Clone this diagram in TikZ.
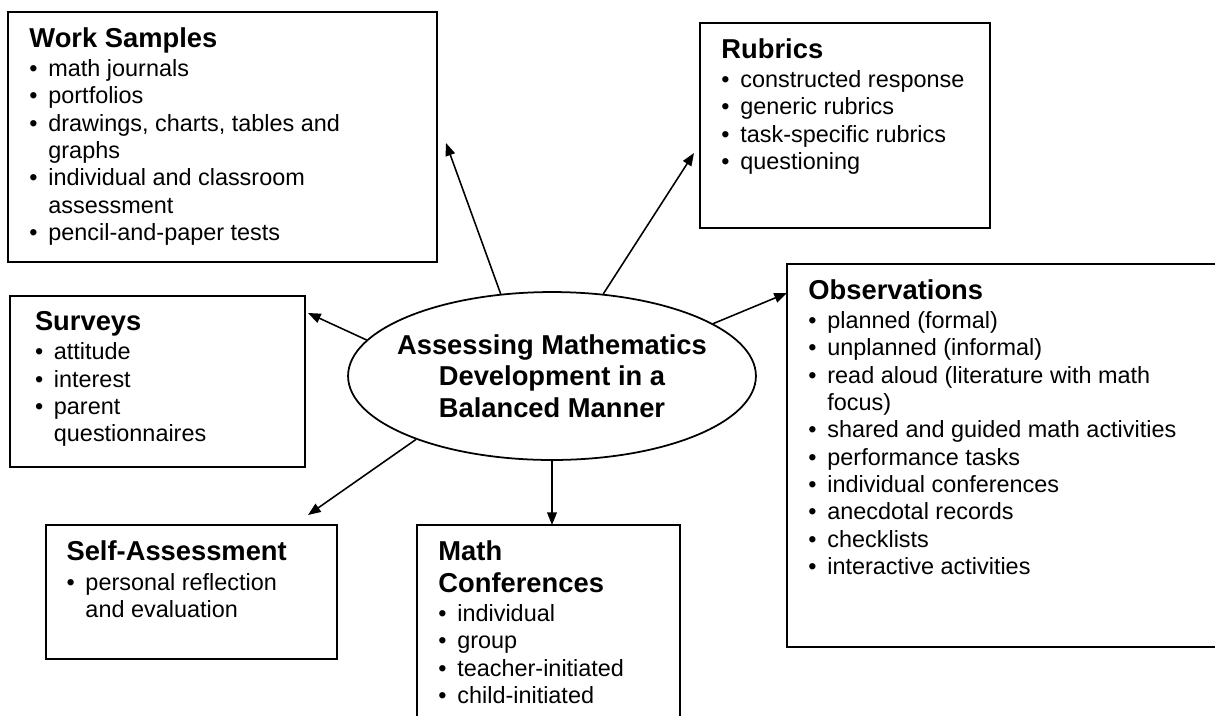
\documentclass[tikz,border=0pt]{standalone}
\usepackage{fontspec}
\setmainfont{Liberation Sans}
\usetikzlibrary{arrows.meta,positioning,shapes.geometric}
\newcommand{\bul}{\makebox[9.7pt][l]{\textbullet}}
\newcommand{\cont}{\hspace*{9.7pt}}
\newcommand{\ttl}[1]{{\fontsize{14}{16}\selectfont\bfseries #1}}
\tikzset{
  frame/.style={draw,line width=1pt,rectangle,inner sep=0pt},
  items/.style={anchor=north west,inner sep=0pt,align=left,
                font=\fontsize{12}{14}\selectfont},
  hub/.style={ellipse,draw,line width=0.9pt,inner sep=0pt,
              minimum width=7.344cm,minimum height=3.024cm},
  hubtext/.style={align=center,inner sep=0pt,
                  font=\fontsize{14}{16}\selectfont\bfseries},
  arr/.style={-{Triangle[length=6.5pt,width=5pt]},line width=0.8pt},
}

\begin{document}
\begin{tikzpicture}[x=0.018cm,y=-0.018cm]
  \useasboundingbox (0,0) rectangle (1215,715);
  % centre
  \node[hub] (hub) at (552,376) {};
  \node[hubtext] (hubtxt) at (hub.center)
    {Assessing Mathematics\\Development in a\\Balanced Manner};
  % frames
  \node[frame,minimum width=7.722cm,minimum height=4.5cm] (ws) at (222.5,137) {};
  \node[frame,minimum width=5.22cm,minimum height=3.69cm] (rub) at (845,125.5) {};
  \node[frame,minimum width=5.31cm,minimum height=3.078cm] (sur) at (157.5,381.5) {};
  \node[frame,minimum width=7.884cm,minimum height=6.894cm] (obs) at (1006,455.5) {};
  \node[frame,minimum width=5.238cm,minimum height=2.412cm] (sa) at (191.5,592) {};
  \node[frame,minimum width=4.734cm,minimum height=3.6cm] (mc) at (548.5,625) {};
  % lists
  \node[items,xshift=0.396cm,yshift=-0.288cm] (wslist) at (ws.north west)
    {\ttl{Work Samples}\\[1pt]
     \bul math journals\\
     \bul portfolios\\
     \bul drawings, charts, tables and\\
     \cont graphs\\
     \bul individual and classroom\\
     \cont assessment\\
     \bul pencil-and-paper tests};
  \node[items,xshift=0.396cm,yshift=-0.288cm] (rublist) at (rub.north west)
    {\ttl{Rubrics}\\[1pt]
     \bul constructed response\\
     \bul generic rubrics\\
     \bul task-specific rubrics\\
     \bul questioning};
  \node[items,xshift=0.46cm,yshift=-0.288cm] (surlist) at (sur.north west)
    {\ttl{Surveys}\\[1pt]
     \bul attitude\\
     \bul interest\\
     \bul parent\\
     \cont questionnaires};
  \node[items,xshift=0.396cm,yshift=-0.288cm] (obslist) at (obs.north west)
    {\ttl{Observations}\\[1pt]
     \bul planned (formal)\\
     \bul unplanned (informal)\\
     \bul read aloud (literature with math\\
     \cont focus)\\
     \bul shared and guided math activities\\
     \bul performance tasks\\
     \bul individual conferences\\
     \bul anecdotal records\\
     \bul checklists\\
     \bul interactive activities};
  \node[items,xshift=0.38cm,yshift=-0.3cm] (salist) at (sa.north west)
    {\ttl{Self-Assessment}\\[1pt]
     \bul personal reflection\\
     \cont and evaluation};
  \node[items,xshift=0.396cm,yshift=-0.3cm] (mclist) at (mc.north west)
    {\ttl{Math}\\[2pt]
     \ttl{Conferences}\\[1pt]
     \bul individual\\
     \bul group\\
     \bul teacher-initiated\\
     \bul child-initiated};
  % arrow tips
  \coordinate (wstip) at (446,143);
  \coordinate (rubtip) at (694,153);
  \coordinate (surtip) at (308,313);
  \coordinate (obstip) at (787,293);
  \coordinate (satip) at (308,515);
  \coordinate (mctip) at (552,525);
  \draw[arr] (hub.122.7) -- (wstip);
  \draw[arr] (hub.58.7) -- (rubtip);
  \draw[arr] (hub.169.1) -- (surtip);
  \draw[arr] (hub.18.5) -- (obstip);
  \draw[arr] (hub.205) -- (satip);
  \draw[arr] (hub.south) -- (mctip);
\end{tikzpicture}
\end{document}
